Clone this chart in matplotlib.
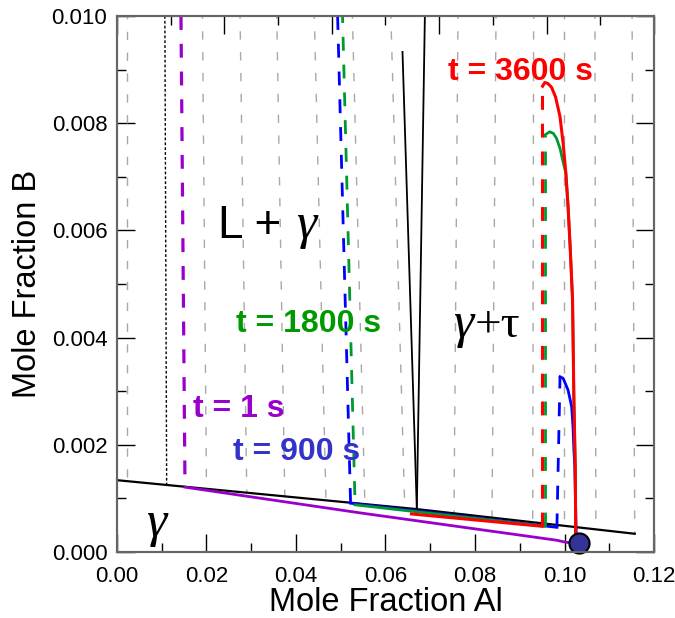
import matplotlib
matplotlib.use("Agg")
import matplotlib.pyplot as plt
from matplotlib.ticker import MultipleLocator, FormatStrFormatter

plt.rcParams['font.family'] = 'Liberation Sans'
plt.rcParams['lines.scale_dashes'] = False

# phase boundaries (black)
solidus_x = [0.0, 0.067, 0.1157]
solidus_y = [0.00134, 0.00080, 0.00034]
vleft_x = [0.0638, 0.0670]
vleft_y = [0.00933, 0.00080]
vright_x = [0.0688, 0.0670]
vright_y = [0.0100, 0.00080]
dotted_x = [0.0107, 0.0111]
dotted_y = [0.0100, 0.00125]

# grey tie lines: top x (at 0.010) and end point on the solidus
tie_top_x = [0.0023, 0.0191, 0.0275, 0.0357, 0.0441, 0.0526, 0.0612,
             0.0762, 0.0847, 0.0931, 0.0999, 0.1068, 0.1151]
tie_bot_x = [0.0023, 0.0200, 0.0290, 0.0375, 0.0467, 0.0554, 0.0643,
             0.0753, 0.0838, 0.0929, 0.0999, 0.1070, 0.1157]
tie_bot_y = [0.00132, 0.00118, 0.00111, 0.00104, 0.00096, 0.00089, 0.00082,
             0.00072, 0.00064, 0.00056, 0.00049, 0.00042, 0.00034]

# t = 1 s (purple)
p_dash_x = [0.0143, 0.0152]
p_dash_y = [0.0100, 0.00121]
p_sol_x = [0.0152, 0.0543, 0.0982, 0.1004, 0.1032]
p_sol_y = [0.00121, 0.00073, 0.00022, 0.00018, 0.00016]

# t = 900 s (blue)
b_dash1_x = [0.0493, 0.0522]
b_dash1_y = [0.0100, 0.00091]
b_sol_x = [0.0522, 0.0983]
b_sol_y = [0.00091, 0.00046]
b_dash2_x = [0.0983, 0.0990]
b_dash2_y = [0.00046, 0.00327]
b_curve_x = [0.0990, 0.0997, 0.1008, 0.1016, 0.1019, 0.1021, 0.1023, 0.1025, 0.1027]
b_curve_y = [0.00327, 0.00324, 0.00302, 0.00271, 0.00234, 0.00190, 0.00159, 0.00080, 0.0]

# t = 1800 s (green)
g_dash1_x = [0.0504, 0.0532]
g_dash1_y = [0.0100, 0.00088]
g_sol_x = [0.0532, 0.0956]
g_sol_y = [0.00088, 0.00048]
g_dash2_x = [0.0956, 0.0956]
g_dash2_y = [0.00048, 0.00778]
g_curve_x = [0.0956, 0.0967, 0.0975, 0.0982, 0.0990, 0.0996, 0.1003,
             0.1008, 0.1013, 0.1018, 0.1021, 0.1024, 0.1025, 0.1027]
g_curve_y = [0.00778, 0.00784, 0.00781, 0.00772, 0.00753, 0.00731, 0.00707,
             0.00644, 0.00563, 0.00470, 0.00284, 0.00159, 0.00035, 0.0]

# t = 3600 s (red)
r_sol_x = [0.0658, 0.0950]
r_sol_y = [0.00071, 0.00048]
r_dash_x = [0.0950, 0.0950]
r_dash_y = [0.00048, 0.00869]
r_curve_x = [0.0951, 0.0956, 0.0963, 0.0971, 0.0980, 0.0990, 0.0997, 0.1003,
             0.1008, 0.1013, 0.1018, 0.1021, 0.1024, 0.1025, 0.1027]
r_curve_y = [0.00869, 0.00876, 0.00874, 0.00867, 0.00849, 0.00812, 0.00762, 0.00707,
             0.00644, 0.00563, 0.00470, 0.00284, 0.00159, 0.00035, 0.0]

dot_x, dot_y = 0.1032, 0.00016

purple = '#9900cc'
blue = '#0000ff'
green = '#00992e'
red = '#ff0000'
grey = '#a8a8a8'
dash = (0, (10, 10))

fig = plt.figure(figsize=(6.75, 6.18), dpi=100)
ax = fig.add_axes([0.1733, 0.1068, 0.7956, 0.8673])

for tx, bx, by in zip(tie_top_x, tie_bot_x, tie_bot_y):
    ax.plot([tx, bx], [0.0100, by], color=grey, lw=1.0, ls=(4, (6, 9)))

ax.plot(dotted_x, dotted_y, color='black', lw=1.0, ls=(0, (2, 1.5)))
ax.plot(solidus_x, solidus_y, color='black', lw=1.6)
ax.plot(vleft_x, vleft_y, color='black', lw=1.3)
ax.plot(vright_x, vright_y, color='black', lw=1.3)

# purple
ax.plot(p_dash_x, p_dash_y, color=purple, lw=2.3, ls=dash)
ax.plot(p_sol_x, p_sol_y, color=purple, lw=2.0)
# blue
ax.plot(b_sol_x, b_sol_y, color=blue, lw=2.0)
ax.plot(b_dash1_x, b_dash1_y, color=blue, lw=2.0, ls=dash)
ax.plot(b_dash2_x, b_dash2_y, color=blue, lw=2.0, ls=dash)
ax.plot(b_curve_x, b_curve_y, color=blue, lw=2.0)
# green
ax.plot(g_sol_x, g_sol_y, color=green, lw=2.0)
ax.plot(g_dash1_x, g_dash1_y, color=green, lw=2.0, ls=(5, (10, 10)))
ax.plot(g_dash2_x, g_dash2_y, color=green, lw=2.0, ls=dash)
ax.plot(g_curve_x, g_curve_y, color=green, lw=2.0)
# red
ax.plot(r_sol_x, r_sol_y, color=red, lw=2.2)
ax.plot(r_dash_x, r_dash_y, color=red, lw=2.2, ls=dash)
ax.plot(r_curve_x, r_curve_y, color=red, lw=2.2)

ax.plot([dot_x], [dot_y], 'o', ms=14.5, mfc='#333399', mec='black', mew=1.5,
        clip_on=False, zorder=5)

# labels on the diagram
ax.text(0.0226, 0.00586, 'L + ', fontsize=33, ha='left', va='baseline')
ax.text(0.0400, 0.00586, 'γ', fontsize=37, family='Liberation Serif',
        style='italic', ha='left', va='baseline')
ax.text(0.0066, 0.00030, 'γ', fontsize=37, family='Liberation Serif',
        style='italic', ha='left', va='baseline')
ax.text(0.0752, 0.00402, 'γ', fontsize=37, family='Liberation Serif',
        style='italic', ha='left', va='baseline')
ax.text(0.0800, 0.00402, '+τ', fontsize=34, family='Liberation Serif',
        ha='left', va='baseline')
ax.text(0.0739, 0.00881, 't = 3600 s', fontsize=23, fontweight='bold',
        color=red, ha='left', va='baseline')
ax.text(0.0266, 0.00410, 't = 1800 s', fontsize=23, fontweight='bold',
        color='#009900', ha='left', va='baseline')
ax.text(0.0170, 0.00252, 't = 1 s', fontsize=23, fontweight='bold',
        color=purple, ha='left', va='baseline')
ax.text(0.0259, 0.00172, 't = 900 s', fontsize=23, fontweight='bold',
        color='#3333cc', ha='left', va='baseline')

ax.set_xlim(0, 0.12)
ax.set_ylim(0, 0.010)
ax.xaxis.set_major_locator(MultipleLocator(0.02))
ax.xaxis.set_minor_locator(MultipleLocator(0.01))
ax.yaxis.set_major_locator(MultipleLocator(0.002))
ax.yaxis.set_minor_locator(MultipleLocator(0.001))
ax.xaxis.set_major_formatter(FormatStrFormatter('%.2f'))
ax.yaxis.set_major_formatter(FormatStrFormatter('%.3f'))
ax.tick_params(which='both', direction='in', right=True, labelsize=16, color='black')
ax.tick_params(which='major', length=13, width=1.0)
ax.tick_params(which='minor', length=6.5, width=1.0)
ax.tick_params(axis='x', pad=10)
ax.tick_params(axis='y', pad=7)

# top axis carries its own 0-0.010 tick scale
top = ax.twiny()
top.set_xlim(0, 0.010)
top.xaxis.set_major_locator(MultipleLocator(0.002))
top.xaxis.set_minor_locator(MultipleLocator(0.001))
top.tick_params(which='both', direction='in', labeltop=False)
top.tick_params(which='major', length=13, width=1.0)
top.tick_params(which='minor', length=6.5, width=1.0)

for a in (ax, top):
    for s in a.spines.values():
        s.set_color('#666666')
        s.set_linewidth(1.5)

ax.set_xlabel('Mole Fraction Al', fontsize=23.5, labelpad=0)
ax.set_ylabel('Mole Fraction B', fontsize=23.5, labelpad=6)

fig.savefig('out.png', dpi=100)
